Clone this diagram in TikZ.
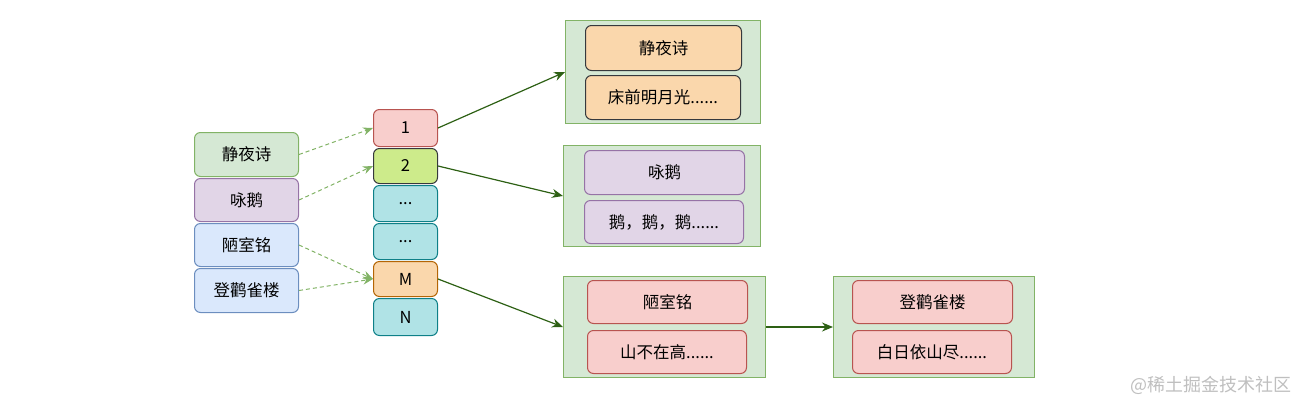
\documentclass[tikz,border=0pt]{standalone}
\usepackage{fontspec}
\setmainfont{Noto Sans CJK SC}
\usetikzlibrary{arrows.meta}
\definecolor{gfill}{HTML}{D5E8D4}\definecolor{gline}{HTML}{82B366}
\definecolor{pfill}{HTML}{E1D5E7}\definecolor{pline}{HTML}{9673A6}
\definecolor{bfill}{HTML}{DAE8FC}\definecolor{bline}{HTML}{6C8EBF}
\definecolor{rfill}{HTML}{F8CECC}\definecolor{rline}{HTML}{B85450}
\definecolor{lfill}{HTML}{CDEB8B}\definecolor{dline}{HTML}{36393D}
\definecolor{tfill}{HTML}{B0E3E6}\definecolor{tline}{HTML}{0E8088}
\definecolor{ofill}{HTML}{FAD7AC}\definecolor{oline}{HTML}{B46504}
\definecolor{arr}{HTML}{2D6014}
\begin{document}
\begin{tikzpicture}[x=1pt,y=-1pt,font=\fontsize{16.5}{19}\selectfont,
  box/.style={draw,rounded corners=6pt,line width=1pt,inner sep=0pt,anchor=north west},
  cont/.style={draw=gline,fill=gfill,line width=1pt,inner sep=0pt,anchor=north west},
  dash arrow/.style={draw=gline,line width=1pt,dash pattern=on 4pt off 3pt,-{Stealth[length=10pt,width=8pt]}},
  solid arrow/.style={draw=arr,line width=1.2pt,-{Stealth[length=11pt,width=9pt]}}]
\useasboundingbox (0,0) rectangle (1304,407);
% left column
\node[box,draw=gline,fill=gfill,minimum width=104pt,minimum height=44pt] (a1) at (194,132) {静夜诗};
\node[box,draw=pline,fill=pfill,minimum width=104pt,minimum height=43pt] (a2) at (194,178) {咏鹅};
\node[box,draw=bline,fill=bfill,minimum width=104pt,minimum height=43pt] (a3) at (194,223) {陋室铭};
\node[box,draw=bline,fill=bfill,minimum width=104pt,minimum height=44pt] (a4) at (194,268) {登鹳雀楼};
% middle column
\node[box,draw=rline,fill=rfill,minimum width=64pt,minimum height=37pt] (m1) at (373,109) {1};
\node[box,draw=dline,fill=lfill,minimum width=64pt,minimum height=35pt] (m2) at (373,148) {2};
\node[box,draw=tline,fill=tfill,minimum width=64pt,minimum height=36pt] (m3) at (373,185) {...};
\node[box,draw=tline,fill=tfill,minimum width=64pt,minimum height=36pt] (m4) at (373,223) {...};
\node[box,draw=oline,fill=ofill,minimum width=64pt,minimum height=35pt] (m5) at (373,261) {M};
\node[box,draw=tline,fill=tfill,minimum width=64pt,minimum height=37pt] (m6) at (373,298) {N};
% containers
\node[cont,minimum width=195pt,minimum height=103pt] (c1) at (565,20) {};
\node[box,draw=dline,fill=ofill,minimum width=156pt,minimum height=45pt] (c1a) at (585,25) {静夜诗};
\node[box,draw=dline,fill=ofill,minimum width=155pt,minimum height=44pt] (c1b) at (585,75) {床前明月光......};
\node[cont,minimum width=197pt,minimum height=101pt] (c2) at (563,145) {};
\node[box,draw=pline,fill=pfill,minimum width=160pt,minimum height=44pt] (c2a) at (584,150) {咏鹅};
\node[box,draw=pline,fill=pfill,minimum width=159pt,minimum height=43pt] (c2b) at (584,200) {鹅，鹅，鹅......};
\node[cont,minimum width=202pt,minimum height=101pt] (c3) at (563,276) {};
\node[box,draw=rline,fill=rfill,minimum width=160pt,minimum height=43pt] (c3a) at (587,280) {陋室铭};
\node[box,draw=rline,fill=rfill,minimum width=159pt,minimum height=43pt] (c3b) at (587,330) {山不在高......};
\node[cont,minimum width=201pt,minimum height=101pt] (c4) at (833,276) {};
\node[box,draw=rline,fill=rfill,minimum width=160pt,minimum height=43pt] (c4a) at (852,280) {登鹳雀楼};
\node[box,draw=rline,fill=rfill,minimum width=159pt,minimum height=43pt] (c4b) at (852,330) {白日依山尽......};
% dashed arrows
\draw[dash arrow] (a1.east) -- (m1.west);
\draw[dash arrow] (a2.east) -- (m2.west);
\draw[dash arrow] (a3.east) -- (m5.west);
\draw[dash arrow] (a4.east) -- (m5.west);
% solid arrows
\draw[solid arrow] (m1.east) -- (c1.west);
\draw[solid arrow] (m2.east) -- (c2.west);
\draw[solid arrow] (m5.east) -- (c3.west);
\draw[solid arrow] (c3.east) -- (c4.west);
% watermark
\node[text=black!25,anchor=west,inner sep=0pt,font=\fontsize{18}{20}\selectfont] (wm) at (1130,385) {@稀土掘金技术社区};
\end{tikzpicture}
\end{document}
